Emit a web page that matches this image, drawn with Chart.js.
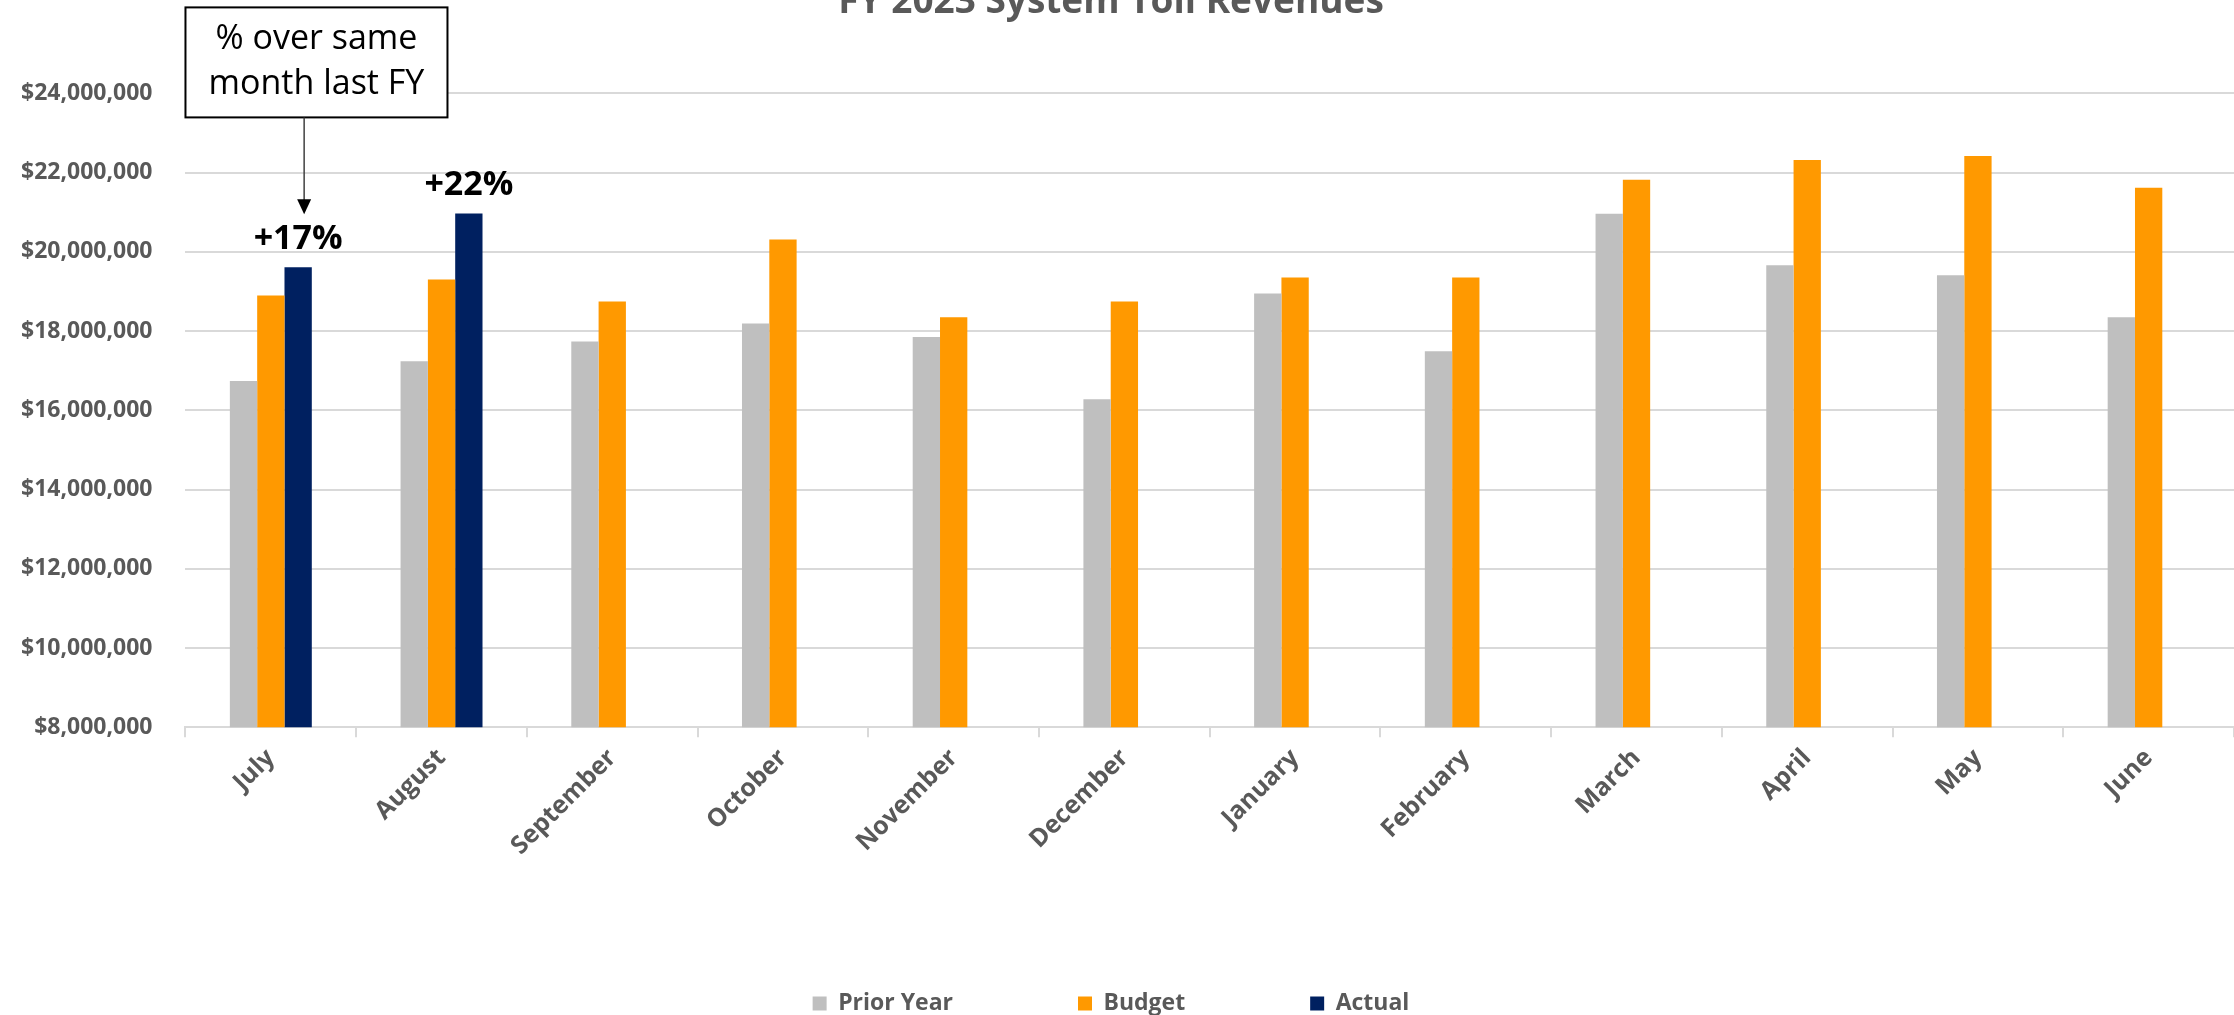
<!DOCTYPE html>
<html>
<head>
<meta charset="utf-8">
<title>FY 2023 System Toll Revenues</title>
<script src="https://cdn.jsdelivr.net/npm/chart.js@4.4.0/dist/chart.umd.min.js"></script>
<style>
  html, body { margin: 0; padding: 0; background: #fff; overflow: hidden; }
  #wrap { width: 2234px; height: 1015px; overflow: hidden; position: relative; }
  /* title sits partly above the page edge */
  #chart { position: absolute; left: 0; top: -20px; }
</style>
</head>
<body>
<div id="wrap"><canvas id="chart" width="2234" height="1035"></canvas></div>
<script>
var months = ['July', 'August', 'September', 'October', 'November', 'December', 'January', 'February', 'March', 'April', 'May', 'June'];
var priorYear = [16740000, 17240000, 17740000, 18190000, 17850000, 16280000, 18950000, 17490000, 20960000, 19660000, 19410000, 18350000];
var budget = [18900000, 19300000, 18750000, 20310000, 18350000, 18750000, 19350000, 19350000, 21820000, 22320000, 22420000, 21620000];
var actual = [19610000, 20970000, null, null, null, null, null, null, null, null, null, null];
var yMin = 8000000;
var yMax = 24000000;
var yStep = 2000000;
var noteLines = ['% over same', 'month last FY'];

var gray = '#595959';
var gridColor = '#D9D9D9';

function money(v) {
  return '$' + Number(v).toLocaleString('en-US');
}

// growth labels over the actual bars, plus the callout box with its arrow
var growthNote = {
  id: 'growthNote',
  afterDatasetsDraw: function(chart) {
    var ctx = chart.ctx;
    var meta = chart.getDatasetMeta(2);
    var area = chart.chartArea;
    ctx.save();

    ctx.font = 'bold 34px "Open Sans"';
    ctx.fillStyle = '#000';
    ctx.textAlign = 'center';
    ctx.textBaseline = 'alphabetic';
    for (var i = 0; i < actual.length; i++) {
      if (actual[i] === null) continue;
      var bar = meta.data[i];
      var pct = Math.round((actual[i] / priorYear[i] - 1) * 100);
      ctx.fillText('+' + pct + '%', bar.x, bar.y - 18);
    }

    var boxLeft = area.left;
    var boxTop = area.top - 86;
    var boxW = 262;
    var boxH = 110;
    ctx.fillStyle = '#fff';
    ctx.fillRect(boxLeft, boxTop, boxW, boxH);
    ctx.strokeStyle = '#000';
    ctx.lineWidth = 2;
    ctx.strokeRect(boxLeft, boxTop, boxW, boxH);

    ctx.fillStyle = '#000';
    ctx.font = '34px "Open Sans"';
    ctx.fillText(noteLines[0], boxLeft + boxW / 2, boxTop + 42);
    ctx.fillText(noteLines[1], boxLeft + boxW / 2, boxTop + 87);

    var first = meta.data[0];
    var ax = first.x + 6;
    var tipY = first.y - 18 - 25 - 10;
    ctx.strokeStyle = '#404040';
    ctx.lineWidth = 1.5;
    ctx.beginPath();
    ctx.moveTo(ax, boxTop + boxH);
    ctx.lineTo(ax, tipY - 12);
    ctx.stroke();
    ctx.fillStyle = '#000';
    ctx.beginPath();
    ctx.moveTo(ax - 7, tipY - 15);
    ctx.lineTo(ax + 7, tipY - 15);
    ctx.lineTo(ax, tipY);
    ctx.closePath();
    ctx.fill();

    ctx.restore();
  }
};

var ctx = document.getElementById('chart').getContext('2d');
var revenueChart = new Chart(ctx, {
  type: 'bar',
  data: {
    labels: months,
    datasets: [
      { label: 'Prior Year', data: priorYear, backgroundColor: '#BFBFBF' },
      { label: 'Budget', data: budget, backgroundColor: '#FF9900' },
      { label: 'Actual', data: actual, backgroundColor: '#002060' }
    ]
  },
  options: {
    responsive: false,
    animation: false,
    devicePixelRatio: 1,
    categoryPercentage: 0.48,
    barPercentage: 1.0,
    layout: { padding: { left: -12, right: 0, top: 0, bottom: -10 } },
    plugins: {
      title: {
        display: true,
        text: 'FY 2023 System Toll Revenues',
        color: gray,
        font: { family: 'Open Sans', size: 37, weight: 'bold' },
        padding: { top: 0, bottom: 69 }
      },
      legend: {
        position: 'bottom',
        labels: {
          boxWidth: 14,
          boxHeight: 14,
          padding: 125,
          color: gray,
          font: { family: 'Open Sans', size: 23, weight: 'bold' }
        }
      },
      tooltip: { enabled: false }
    },
    scales: {
      x: {
        grid: {
          offset: true,
          drawOnChartArea: false,
          drawTicks: true,
          tickLength: 10,
          color: gridColor,
          lineWidth: 2
        },
        border: { color: gridColor, width: 2 },
        ticks: {
          autoSkip: false,
          maxRotation: 45,
          minRotation: 45,
          padding: 6,
          color: gray,
          font: { family: 'Open Sans', size: 25, weight: 'bold' }
        }
      },
      y: {
        min: yMin,
        max: yMax,
        grid: { color: gridColor, lineWidth: 2, drawTicks: false },
        border: { display: false },
        ticks: {
          stepSize: yStep,
          padding: 33,
          color: gray,
          font: { family: 'Open Sans', size: 23, weight: 'bold' },
          callback: function(value) { return money(value); }
        }
      }
    }
  },
  plugins: [growthNote]
});
</script>
</body>
</html>
